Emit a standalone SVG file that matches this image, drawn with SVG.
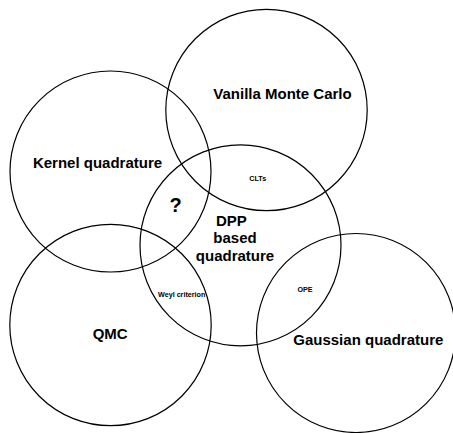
<svg xmlns="http://www.w3.org/2000/svg" width="453" height="433" viewBox="0 0 453 433">
<style>
circle{fill:none;stroke:#000;stroke-width:1.2}
text{font-family:"Liberation Sans",Arial,Helvetica,sans-serif;font-weight:bold;fill:#000;text-anchor:middle}
.big{font-size:15px}
.small{font-size:7.2px}
.q{font-size:20px}
</style>
<rect width="453" height="433" fill="#fff"/>
<g id="vanilla-monte-carlo">
<circle cx="266.5" cy="110" r="100.7"/>
<text class="big" x="282.5" y="99.3">Vanilla Monte Carlo</text>
</g>
<g id="kernel-quadrature">
<circle cx="110.5" cy="171.5" r="100.5"/>
<text class="big" x="97.5" y="167.7">Kernel quadrature</text>
</g>
<g id="dpp-quadrature">
<circle cx="240.5" cy="245.3" r="100.5"/>
<text class="big" x="231.3" y="225.7">DPP</text>
<text class="big" x="235" y="243.3">based</text>
<text class="big" x="235" y="261">quadrature</text>
</g>
<g id="qmc">
<circle cx="110.5" cy="325" r="100.7"/>
<text class="big" x="110.2" y="339">QMC</text>
</g>
<g id="gaussian-quadrature">
<circle cx="356" cy="333" r="99.5"/>
<text class="big" x="368.3" y="345">Gaussian quadrature</text>
</g>
<g id="overlap-labels">
<text class="small" x="257.7" y="180.7">CLTs</text>
<text class="q" x="175.5" y="211.7">?</text>
<text class="small" x="181.7" y="297.3">Weyl criterion</text>
<text class="small" x="305" y="291.7">OPE</text>
</g>
<g id="connectors"></g>
</svg>
